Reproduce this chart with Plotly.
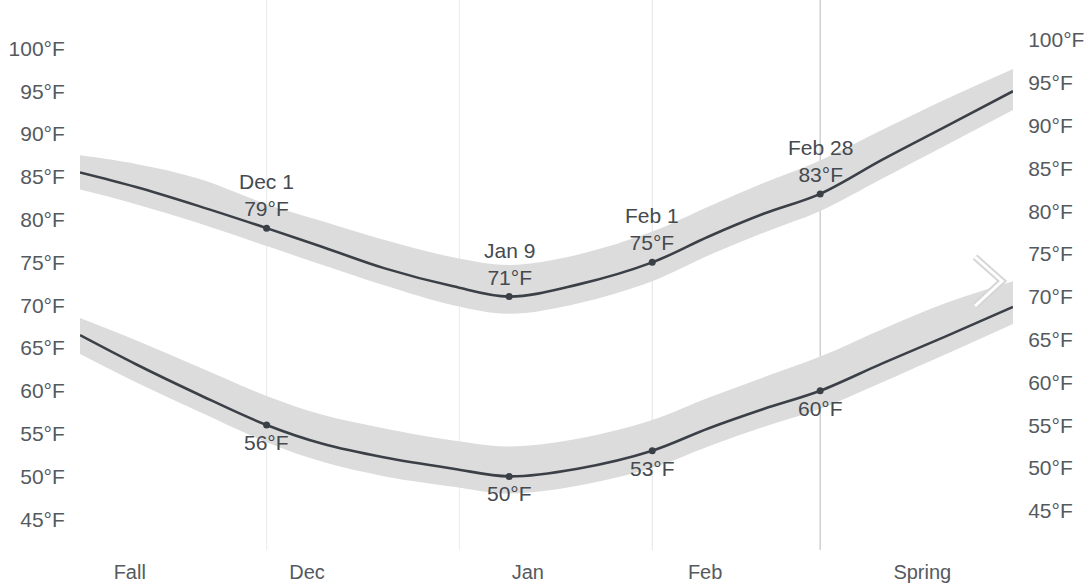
import plotly.graph_objects as go

# ---- data ----
dates = ["2022-11-01", "2022-11-10", "2022-11-20", "2022-12-01", "2022-12-10",
         "2022-12-20", "2022-12-31", "2023-01-09", "2023-01-20", "2023-02-01",
         "2023-02-10", "2023-02-19", "2023-02-28", "2023-03-10", "2023-03-20",
         "2023-03-31"]
high = [85.5, 83.8, 81.6, 79.0, 76.8, 74.3, 72.2, 71.0, 72.4, 75.0,
        78.0, 80.7, 83.0, 87.0, 90.8, 95.0]
low = [66.5, 63.1, 59.6, 56.0, 53.8, 52.2, 50.9, 50.0, 50.9, 53.0,
       55.6, 57.9, 60.0, 63.2, 66.3, 69.8]
high_band_upper = [87.5, 86.5, 84.8, 81.8, 79.8, 77.6, 75.6, 74.7, 75.9, 78.6,
                   81.5, 84.3, 86.9, 90.5, 94.0, 97.6]
high_band_lower = [83.5, 81.8, 79.6, 76.9, 74.7, 72.3, 70.0, 69.0, 70.2, 72.8,
                   75.8, 78.5, 81.0, 84.8, 88.6, 92.8]
low_band_upper = [68.5, 65.9, 62.8, 59.4, 57.2, 55.6, 54.2, 53.5, 54.4, 56.6,
                  59.2, 61.6, 64.0, 67.2, 70.2, 72.8]
low_band_lower = [64.3, 61.0, 57.6, 54.0, 51.7, 50.0, 48.8, 48.0, 48.9, 51.0,
                  53.5, 55.8, 57.9, 61.0, 64.2, 67.8]

label_dates = ["2022-12-01", "2023-01-09", "2023-02-01", "2023-02-28"]
label_names = ["Dec 1", "Jan 9", "Feb 1", "Feb 28"]
high_labels = [79, 71, 75, 83]
low_labels = [56, 50, 53, 60]

grid_dates = ["2022-12-01", "2023-01-01", "2023-02-01", "2023-02-28"]
grid_colors = ["#ededed", "#ededed", "#e8e8e8", "#c4c4c4"]

x_tick_dates = ["2022-11-09", "2022-12-07 12:00", "2023-01-12", "2023-02-09 12:00", "2023-03-16 10:00"]
x_tick_text = ["Fall", "Dec", "Jan", "Feb", "Spring"]

y_ticks = [45, 50, 55, 60, 65, 70, 75, 80, 85, 90, 95, 100]
y_tick_text = [f"{v}°F" for v in y_ticks]

LINE = "#3b4047"
BAND = "#dcdcdc"
FONT = "Liberation Sans, Arial, sans-serif"
TXT = "#555a60"

fig = go.Figure()

for up, lo in [(high_band_upper, high_band_lower), (low_band_upper, low_band_lower)]:
    fig.add_trace(go.Scatter(x=dates, y=up, mode="lines",
                             line=dict(width=0, shape="spline"),
                             showlegend=False, hoverinfo="skip"))
    fig.add_trace(go.Scatter(x=dates, y=lo, mode="lines",
                             line=dict(width=0, shape="spline"),
                             fill="tonexty", fillcolor=BAND,
                             showlegend=False, hoverinfo="skip"))

for series in (high, low):
    fig.add_trace(go.Scatter(x=dates, y=series, mode="lines",
                             line=dict(color=LINE, width=2.6, shape="spline"),
                             showlegend=False))

for vals in (high_labels, low_labels):
    fig.add_trace(go.Scatter(x=label_dates, y=vals, mode="markers",
                             marker=dict(size=7, color=LINE),
                             showlegend=False))

# invisible trace to carry the right-hand axis
fig.add_trace(go.Scatter(x=dates, y=high, yaxis="y2", mode="lines",
                         opacity=0, showlegend=False, hoverinfo="skip"))

annotations = []
for d, n, v in zip(label_dates, label_names, high_labels):
    annotations.append(dict(x=d, y=v, xref="x", yref="y", text=f"{n}<br>{v}°F",
                            showarrow=False, yanchor="bottom", yshift=6,
                            font=dict(family=FONT, size=21, color="#454a50")))
for d, v in zip(label_dates, low_labels):
    annotations.append(dict(x=d, y=v, xref="x", yref="y", text=f"{v}°F",
                            showarrow=False, yanchor="top", yshift=-4,
                            font=dict(family=FONT, size=21, color="#454a50")))

shapes = []
for d, c in zip(grid_dates, grid_colors):
    shapes.append(dict(type="line", xref="x", yref="paper", x0=d, x1=d, y0=0, y1=1,
                       line=dict(color=c, width=1.2), layer="below"))

# navigation chevron (decoration)
def px(xp, yp):
    return (xp - 80) / 933, (550 - yp) / 550
p1, p2, p3 = px(975, 257), px(1002, 281), px(975, 306)
chev = f"M {p1[0]},{p1[1]} L {p2[0]},{p2[1]} L {p3[0]},{p3[1]}"
shapes.append(dict(type="path", xref="paper", yref="paper", path=chev,
                   line=dict(color="#d6d6d6", width=7)))
shapes.append(dict(type="path", xref="paper", yref="paper", path=chev,
                   line=dict(color="#ffffff", width=3)))

axis_common = dict(showgrid=False, zeroline=False, showline=False, automargin=False,
                   ticks="outside", tickcolor="rgba(0,0,0,0)")

fig.update_layout(
    width=1087, height=587,
    margin=dict(l=80, r=74, t=0, b=37, autoexpand=False),
    paper_bgcolor="white", plot_bgcolor="white",
    showlegend=False,
    font=dict(family=FONT, size=21, color=TXT),
    xaxis=dict(type="date", range=["2022-11-01", "2023-03-31"],
               tickvals=x_tick_dates, ticktext=x_tick_text, ticklen=4,
               tickfont=dict(family=FONT, size=20, color=TXT),
               **axis_common),
    yaxis=dict(range=[41.4, 105.65], tickvals=y_ticks, ticktext=y_tick_text,
               ticklen=10, tickfont=dict(family=FONT, size=21, color=TXT),
               **axis_common),
    yaxis2=dict(range=[40.42, 104.67], tickvals=y_ticks, ticktext=y_tick_text,
                overlaying="y", side="right", ticklen=10,
                tickfont=dict(family=FONT, size=21, color=TXT),
                **axis_common),
    annotations=annotations,
    shapes=shapes,
)

fig.write_html("out.html", config={"displayModeBar": False},
               post_script="document.body.style.margin='0';")
